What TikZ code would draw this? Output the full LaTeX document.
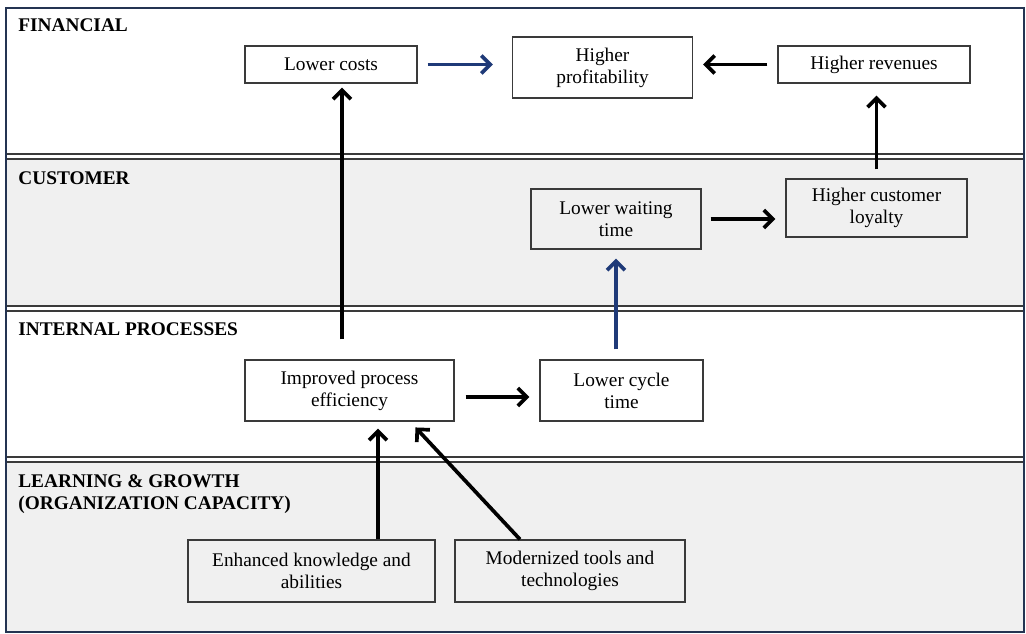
\documentclass[tikz,border=0pt]{standalone}
\usepackage{fontspec}
\setmainfont{Liberation Serif}
\usetikzlibrary{arrows.meta,positioning,calc}
\definecolor{bandgray}{HTML}{F0F0F0}
\definecolor{framenavy}{HTML}{243452}
\definecolor{linegray}{HTML}{3A3A3A}
\definecolor{arrownavy}{HTML}{1F3A78}

\begin{document}
\begin{tikzpicture}[x=0.02cm,y=-0.02cm,>={Straight Barb[length=1.8mm,width=3.6mm]},
  box/.style={draw=linegray,line width=0.7pt,align=center,inner sep=0pt,
    font=\fontsize{11}{12.5}\selectfont},
  heading/.style={anchor=base west,inner sep=0pt,font=\fontsize{11}{12.5}\selectfont\bfseries},
  arr/.style={->,line width=2.1pt},
  navyarr/.style={arr,draw=arrownavy},
  sepline/.style={draw=linegray,line width=0.7pt}]
  \useasboundingbox (0,0) rectangle (1026,634);
  % bands
  \fill[white] (6,8) rectangle (1024,154);
  \fill[bandgray] (6,159) rectangle (1024,306);
  \fill[white] (6,311) rectangle (1024,457);
  \fill[bandgray] (6,462) rectangle (1024,632);
  \foreach \y in {154,159,306,311,457,462}
    \draw[sepline] (6,\y) -- (1024,\y);
  \draw[framenavy,line width=1.4pt] (6,8) rectangle (1024,632);
  % headings
  \node[heading] (hfin) at (18,32) {FINANCIAL};
  \node[heading] (hcust) at (18,185) {CUSTOMER};
  \node[heading] (hint) at (18,336) {INTERNAL PROCESSES};
  \node[heading] (hlearn) at (18,487) {LEARNING \& GROWTH};
  \node[heading] (hcap) at (18,509) {(ORGANIZATION CAPACITY)};
  % boxes
  \node[box,minimum width=3.44cm,minimum height=0.74cm] (costs) at (331,64.5) {Lower costs};
  \node[box,minimum width=3.6cm,minimum height=1.22cm] (profit) at (602.5,67.5) {Higher\\profitability};
  \node[box,minimum width=3.84cm,minimum height=0.74cm] (rev) at (874,64.5) {Higher revenues};
  \node[box,minimum width=3.4cm,minimum height=1.2cm] (wait) at (616,219) {Lower waiting\\time};
  \node[box,minimum width=3.62cm,minimum height=1.16cm] (loyal) at (876.5,208) {Higher customer\\loyalty};
  \node[box,minimum width=4.18cm,minimum height=1.22cm] (eff) at (349.5,390.5) {Improved process\\efficiency};
  \node[box,minimum width=3.26cm,minimum height=1.22cm] (cycle) at (621.5,390.5) {Lower cycle\\time};
  \node[box,minimum width=4.94cm,minimum height=1.24cm] (know) at (311.5,571) {Enhanced knowledge and\\abilities};
  \node[box,minimum width=4.6cm,minimum height=1.24cm] (tools) at (570,571) {Modernized tools and\\technologies};
  \coordinate (effin) at ([xshift=0.57cm]eff.south);
  \coordinate (effin2) at ([xshift=1.21cm]eff.south);
  % arrows
  \draw[navyarr,shorten <=0.2cm,shorten >=0.38cm] (costs.east) -- (costs.east -| profit.west);
  \draw[arr,shorten <=0.2cm,shorten >=0.2cm] (rev.west) -- (rev.west -| profit.east);
  \draw[arr,shorten <=0.4cm,shorten >=0.08cm] ([xshift=-0.15cm]eff.north) -- ([xshift=-0.15cm]eff.north |- costs.south);
  \draw[arr,shorten <=0.18cm,shorten >=0.24cm] (loyal.north) -- (loyal.north |- rev.south);
  \draw[navyarr,shorten <=0.2cm,shorten >=0.18cm] (wait.south |- cycle.north) -- (wait.south);
  \draw[arr,shorten <=0.18cm,shorten >=0.2cm] (wait.east) -- (wait.east -| loyal.west);
  \draw[arr,shorten <=0.22cm,shorten >=0.2cm] ([yshift=-0.13cm]eff.east) -- ([yshift=-0.13cm]eff.east -| cycle.west);
  \draw[arr,shorten >=0.14cm] (know.north -| effin) -- (effin);
  \draw[arr,shorten >=0.16cm] ([xshift=-1cm]tools.north) -- (effin2);
\end{tikzpicture}
\end{document}
